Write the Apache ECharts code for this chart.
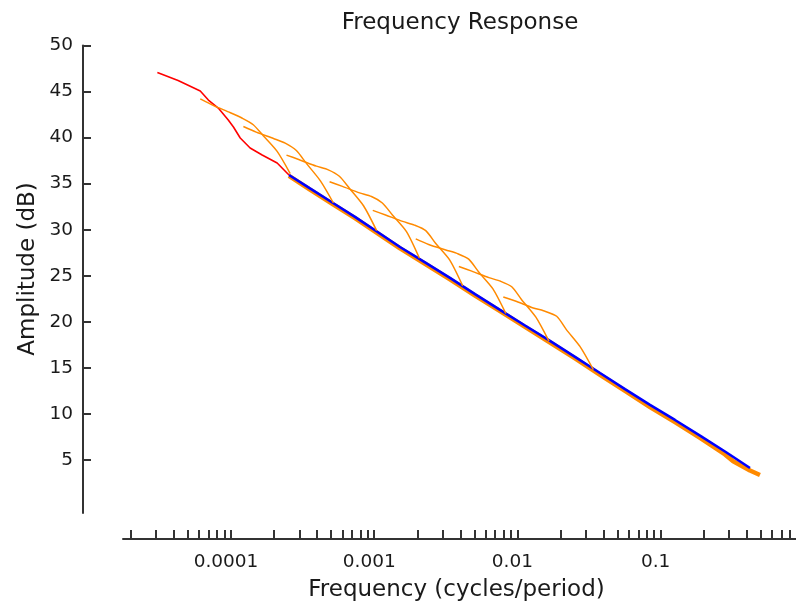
<!DOCTYPE html>
<html>
<head>
<meta charset="utf-8">
<script src="https://cdn.jsdelivr.net/npm/echarts@6.0.0/dist/echarts.min.js"></script>
<style>
  html, body { margin: 0; padding: 0; background: #fff; }
  #chart { width: 796px; height: 612px; }
</style>
</head>
<body>
<div id="chart"></div>
<script>
// frequency (cycles/period) and amplitude (dB)
const redFreq = [3.06e-5, 4.27e-5, 6.1e-5, 6.95e-5, 8.15e-5, 9.57e-5, 1.04e-4, 1.16e-4, 1.36e-4, 1.65e-4, 2.1e-4, 2.54e-4]
const redDb = [47.07, 46.2, 45.06, 44.08, 43.21, 41.91, 41.15, 39.96, 38.87, 38.11, 37.24, 35.94]

const blueFreq = [2.54e-4, 3.56e-4, 5.16e-4, 7.34e-4, 1.063e-3, 1.514e-3, 2.263e-3, 3.38e-3, 5.06e-3, 7.56e-3,
  0.0113, 0.01689, 0.02525, 0.03774, 0.05641, 0.0843, 0.126, 0.1884, 0.2816, 0.4209]
const blueDb = [35.94, 34.48, 32.9, 31.4, 29.72, 28.12, 26.45, 24.76, 23.0, 21.3,
  19.6, 17.92, 16.2, 14.44, 12.7, 10.97, 9.34, 7.65, 5.92, 4.13]

const orangeFreq = [2.54e-4, 3.56e-4, 5.16e-4, 7.34e-4, 1.063e-3, 1.514e-3, 2.263e-3, 3.38e-3, 5.06e-3, 7.56e-3,
  0.0113, 0.01689, 0.02525, 0.03774, 0.05641, 0.0843, 0.126, 0.1884, 0.2816, 0.3213, 0.4209, 0.494]
const orangeDb = [35.85, 34.35, 32.75, 31.25, 29.58, 27.97, 26.3, 24.6, 22.85, 21.15,
  19.45, 17.75, 16.03, 14.25, 12.5, 10.75, 9.1, 7.4, 5.6, 4.85, 3.85, 3.37]

// the eight short orange pieces, left to right
const humpFreq = [
  [6.1e-5, 7.5e-5, 9.9e-5, 1.2e-4, 1.43e-4, 1.68e-4, 2.1e-4, 2.59e-4],
  [1.22e-4, 1.5e-4, 1.98e-4, 2.39e-4, 2.86e-4, 3.36e-4, 4.21e-4, 5.19e-4],
  [2.44e-4, 3.0e-4, 3.95e-4, 4.78e-4, 5.71e-4, 6.71e-4, 8.42e-4, 1.04e-3],
  [4.88e-4, 6.0e-4, 7.9e-4, 9.57e-4, 1.14e-3, 1.34e-3, 1.68e-3, 2.07e-3],
  [9.77e-4, 1.2e-3, 1.58e-3, 1.91e-3, 2.29e-3, 2.69e-3, 3.37e-3, 4.15e-3],
  [1.95e-3, 2.4e-3, 3.16e-3, 3.82e-3, 4.57e-3, 5.37e-3, 6.73e-3, 8.3e-3],
  [3.9e-3, 4.8e-3, 6.32e-3, 7.64e-3, 9.13e-3, 0.0107, 0.01346, 0.0166],
  [7.97e-3, 9.89e-3, 0.0129, 0.0152, 0.0188, 0.0221, 0.0274, 0.0339]
]
const humpDb = [
  [44.2, 43.5, 42.7, 42.1, 41.4, 40.2, 38.5, 36.1],
  [41.2, 40.6, 39.9, 39.4, 38.6, 37.2, 35.3, 32.9],
  [38.1, 37.6, 36.9, 36.5, 35.8, 34.5, 32.6, 29.9],
  [35.2, 34.7, 34.0, 33.6, 32.9, 31.6, 29.8, 26.9],
  [32.1, 31.6, 30.9, 30.5, 29.9, 28.5, 26.7, 23.9],
  [29.0, 28.4, 27.8, 27.4, 26.8, 25.4, 23.6, 20.9],
  [26.0, 25.5, 24.8, 24.4, 23.8, 22.4, 20.5, 17.9],
  [22.7, 22.2, 21.5, 21.2, 20.6, 19.1, 17.3, 14.8]
]

// axis ticks and labels
const yTicks = [5, 10, 15, 20, 25, 30, 35, 40, 45, 50]
const xLabelValues = [1e-4, 1e-3, 1e-2, 1e-1]
const xLabels = ['0.0001', '0.001', '0.01', '0.1']
const xTickValues = [
  2e-5, 3e-5, 4e-5, 5e-5, 6e-5, 7e-5, 8e-5, 9e-5,
  1e-4, 2e-4, 3e-4, 4e-4, 5e-4, 6e-4, 7e-4, 8e-4, 9e-4,
  1e-3, 2e-3, 3e-3, 4e-3, 5e-3, 6e-3, 7e-3, 8e-3, 9e-3,
  1e-2, 2e-2, 3e-2, 4e-2, 5e-2, 6e-2, 7e-2, 8e-2, 9e-2,
  0.1, 0.2, 0.3, 0.4, 0.5, 0.6, 0.7, 0.8
]

const FONT = 'DejaVu Sans'
const AXIS = '#333'

function pairs (xs, ys) {
  return xs.map((x, i) => [x, ys[i]])
}

function line (data, color, width) {
  return {
    type: 'line',
    data: data,
    showSymbol: false,
    symbol: 'none',
    lineStyle: { color: color, width: width },
    emphasis: { disabled: true },
    silent: true
  }
}

const seriesList = [
  line(pairs(redFreq, redDb), '#ff0000', 1.6),
  line(pairs(orangeFreq, orangeDb), '#ff8a00', 4.5),
  line(pairs(blueFreq, blueDb), '#0000ff', 2.6)
]
humpFreq.forEach((fs, i) => {
  const s = line(pairs(fs, humpDb[i]), '#ff8a00', 1.5)
  s.smooth = 0.25
  seriesList.push(s)
})

const chart = echarts.init(document.getElementById('chart'), null, { renderer: 'canvas' })
chart.setOption({
  animation: false,
  backgroundColor: '#fff',
  title: {
    text: 'Frequency Response',
    left: 455,
    top: 7,
    textAlign: 'center',
    textStyle: { fontFamily: FONT, fontSize: 23, fontWeight: 'normal', color: '#1a1a1a' }
  },
  grid: { left: 123, right: 0, top: 45.5, bottom: 99, outerBoundsMode: 'none' },
  xAxis: {
    type: 'log',
    logBase: 10,
    min: 1.761e-5,
    max: 0.882,
    offset: 26,
    axisLine: { show: true, onZero: false, lineStyle: { color: AXIS, width: 2 } },
    axisTick: { show: true, inside: true, length: 9, customValues: xTickValues, lineStyle: { color: AXIS, width: 2 } },
    axisLabel: {
      customValues: xLabelValues,
      margin: 14,
      padding: [0, 10, 0, 0],
      fontFamily: FONT,
      fontSize: 18.5,
      color: '#1a1a1a',
      formatter: function (v) {
        let best = 0
        xLabelValues.forEach((t, i) => {
          if (Math.abs(Math.log10(t) - Math.log10(v)) < Math.abs(Math.log10(xLabelValues[best]) - Math.log10(v))) best = i
        })
        return xLabels[best]
      }
    },
    splitLine: { show: false },
    minorTick: { show: false },
    name: 'Frequency (cycles/period)',
    nameLocation: 'middle',
    nameGap: 40,
    nameTextStyle: { fontFamily: FONT, fontSize: 23, color: '#1a1a1a', padding: [0, 6, 0, 0] }
  },
  yAxis: {
    type: 'value',
    min: -0.76,
    max: 50,
    offset: 40,
    axisLine: { show: true, onZero: false, lineStyle: { color: AXIS, width: 2 } },
    axisTick: { show: true, inside: true, length: 8, customValues: yTicks, lineStyle: { color: AXIS, width: 2 } },
    axisLabel: { customValues: yTicks, margin: 10, fontFamily: FONT, fontSize: 18.5, color: '#1a1a1a' },
    splitLine: { show: false }
  },
  graphic: [{
    type: 'text',
    x: 28,
    y: 269,
    rotation: Math.PI / 2,
    style: {
      text: 'Amplitude (dB)',
      fontFamily: FONT,
      fontSize: 23,
      fill: '#1a1a1a',
      align: 'center',
      verticalAlign: 'middle'
    }
  }],
  series: seriesList
})
</script>
</body>
</html>
